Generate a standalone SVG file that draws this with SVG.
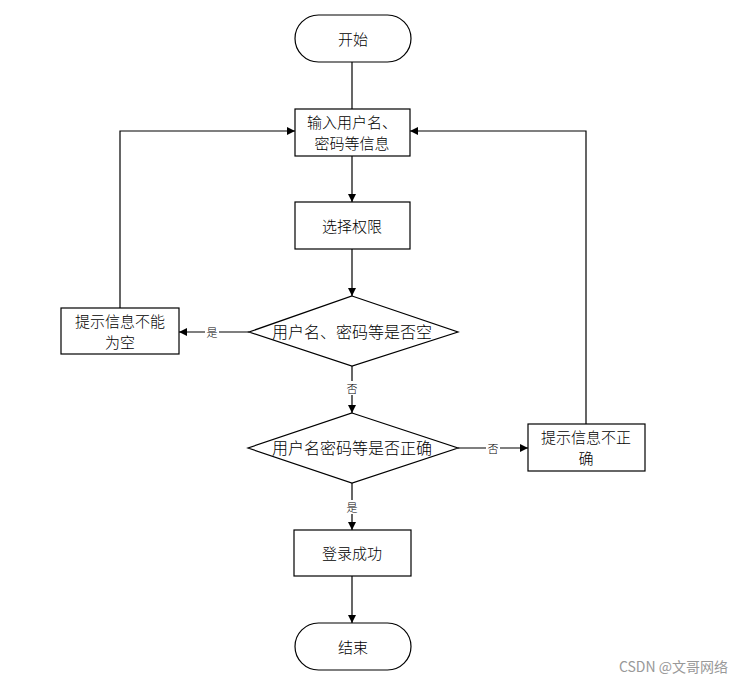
<svg xmlns="http://www.w3.org/2000/svg" width="743" height="683" viewBox="0 0 743 683">
<style>
.s{fill:#fff;stroke:#000;stroke-width:1.2}
.t{font-family:"Noto Sans CJK SC","Noto Sans CJK JP",sans-serif;font-size:15px;font-weight:300;fill:#000;text-anchor:middle;dominant-baseline:central}
.d{font-size:16px}
.l{font-family:"Noto Sans CJK SC",sans-serif;font-size:11px;font-weight:300;fill:#000;text-anchor:middle;dominant-baseline:central}
.c{fill:none;stroke:#000;stroke-width:1.2}
.bg{fill:#fff}
</style>
<defs>
<marker id="a" viewBox="0 0 10 10" refX="10" refY="5" markerWidth="8" markerHeight="8" markerUnits="userSpaceOnUse" orient="auto">
<path d="M0,0 L10,5 L0,10 z" fill="#000"/>
</marker>
</defs>
<rect width="743" height="683" fill="#fff"/>
<g id="connectors">
<path class="c" d="M352,62 V109"/>
<path class="c" d="M352,156 V202" marker-end="url(#a)"/>
<path class="c" d="M352,249 V296" marker-end="url(#a)"/>
<path class="c" d="M249,332 H179" marker-end="url(#a)"/>
<path class="c" d="M120,308 V131 H295" marker-end="url(#a)"/>
<path class="c" d="M352,366 V413" marker-end="url(#a)"/>
<path class="c" d="M458,448 H528" marker-end="url(#a)"/>
<path class="c" d="M586,424 V131 H410" marker-end="url(#a)"/>
<path class="c" d="M352,483 V530" marker-end="url(#a)"/>
<path class="c" d="M352,576 V623" marker-end="url(#a)"/>
<rect class="bg" x="205" y="325" width="14" height="14"/>
<text class="l" x="212" y="332">是</text>
<rect class="bg" x="345" y="381" width="14" height="14"/>
<text class="l" x="352" y="388">否</text>
<rect class="bg" x="486" y="441" width="14" height="14"/>
<text class="l" x="493" y="448">否</text>
<rect class="bg" x="345" y="500" width="14" height="14"/>
<text class="l" x="352" y="507">是</text>
</g>
<g id="start">
<rect class="s" x="295" y="15" width="116" height="47" rx="23.5"/>
<text class="t" x="353" y="38">开始</text>
</g>
<g id="input">
<rect class="s" x="295" y="109" width="115" height="47"/>
<text class="t" x="352" y="121">输入用户名、</text>
<text class="t" x="352" y="142">密码等信息</text>
</g>
<g id="select">
<rect class="s" x="295" y="202" width="115" height="47"/>
<text class="t" x="352" y="225">选择权限</text>
</g>
<g id="check-empty">
<polygon class="s" points="352,296 458,332 352,366 249,332"/>
<text class="t d" x="352" y="331">用户名、密码等是否空</text>
</g>
<g id="empty-msg">
<rect class="s" x="61" y="308" width="118" height="46"/>
<text class="t" x="120" y="320">提示信息不能</text>
<text class="t" x="120" y="341">为空</text>
</g>
<g id="check-correct">
<polygon class="s" points="352,413 458,448 352,483 248,448"/>
<text class="t d" x="352" y="447">用户名密码等是否正确</text>
</g>
<g id="wrong-msg">
<rect class="s" x="528" y="424" width="117" height="47"/>
<text class="t" x="586" y="436">提示信息不正</text>
<text class="t" x="586" y="457">确</text>
</g>
<g id="success">
<rect class="s" x="294" y="530" width="117" height="46"/>
<text class="t" x="352" y="552">登录成功</text>
</g>
<g id="end">
<rect class="s" x="295" y="623" width="116" height="47" rx="23.5"/>
<text class="t" x="353" y="646">结束</text>
</g>
<text x="728" y="666" style="font-family:'Noto Sans CJK SC',sans-serif;font-size:14px;fill:#999;text-anchor:end;dominant-baseline:central">CSDN @文哥网络</text>
</svg>
